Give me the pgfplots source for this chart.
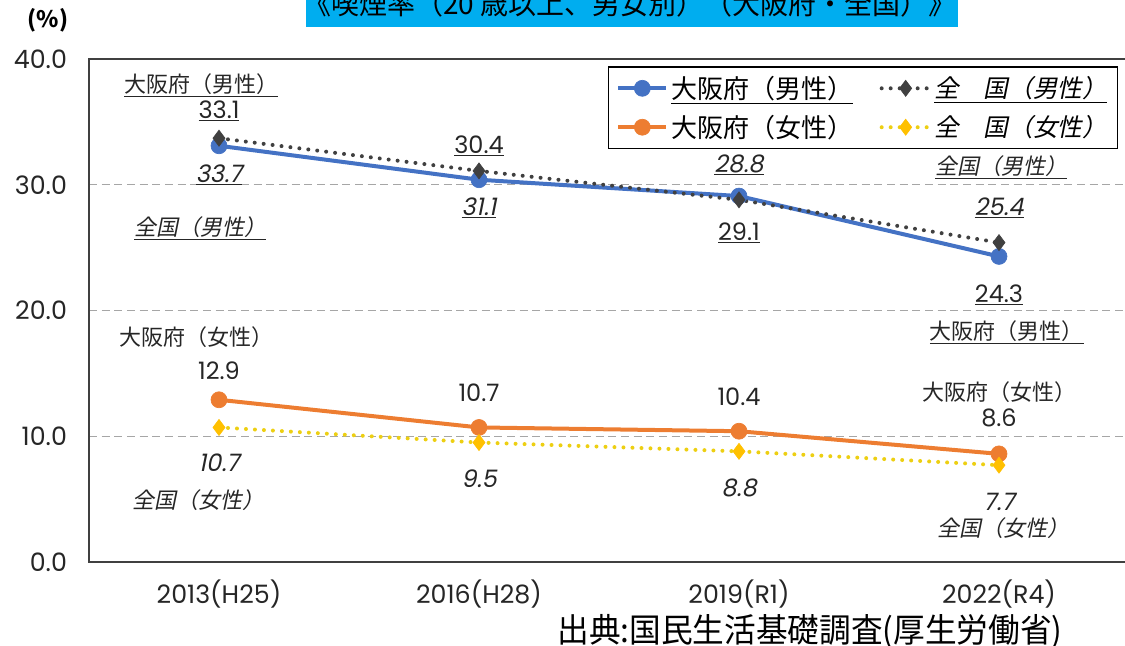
\documentclass[border=0pt]{standalone}
\usepackage{fontspec}
\usepackage{pgfplots}
\usepackage{pgfplotstable}
\pgfplotsset{compat=1.18}
\setmainfont{Noto Sans CJK JP}
\newfontfamily\jp{Noto Sans CJK JP}
\newfontfamily\jpi{Noto Sans CJK JP}[FakeSlant=0.2]
\newfontfamily\jpc{Noto Sans CJK JP}[FakeStretch=0.95]
\newfontfamily\num{Poppins}
\newfontfamily\numi{Poppins}[FakeSlant=0.2]

\definecolor{osm}{HTML}{4472C4}
\definecolor{osf}{HTML}{ED7D31}
\definecolor{nm}{HTML}{404040}
\definecolor{nfl}{HTML}{EDCF12}
\definecolor{nfm}{HTML}{FFC000}
\definecolor{gridc}{HTML}{A6A6A6}
\definecolor{txt}{HTML}{262626}

\pgfplotstableread{
x osm nm osf nf
0 33.1 33.7 12.9 10.7
1 30.4 31.1 10.7 9.5
2 29.1 28.8 10.4 8.8
3 24.3 25.4 8.6 7.7
}\datatable

\newcommand{\jl}{\jp\fontsize{16.5}{19}\selectfont}
\newcommand{\jli}{\jpi\fontsize{16.5}{19}\selectfont}
\newcommand{\nl}{\num\fontsize{18}{20}\selectfont}
\newcommand{\nli}{\numi\fontsize{18}{20}\selectfont}

\begin{document}
\begin{tikzpicture}
\useasboundingbox (-66.75pt,-63pt) rectangle (777pt,421.5pt);
\fill[cyan] (162.75pt,401.25pt) rectangle (651.75pt,440pt);
\node[font=\jp\fontsize{21}{24}\selectfont, text=black] at (405.75pt,418.5pt) {《喫煙率（20 歳以上、男女別）（大阪府・全国）》};
\node[font=\jp\fontsize{17}{19}\selectfont\bfseries, text=black] at (-30.75pt,406.5pt) {(\%)};
\begin{axis}[
  at={(0,0)}, anchor=south west,
  scale only axis, width=780pt, height=377.25pt,
  xmin=-0.5, xmax=3.5, ymin=0, ymax=40,
  xtick={0,1,2,3}, xticklabels={2013(H25),2016(H28),2019(R1),2022(R4)},
  ytick={0,10,20,30,40}, yticklabels={0.0,10.0,20.0,30.0,40.0},
  major tick length=0pt,
  ymajorgrids, grid style={gridc, line width=0.9pt, dash pattern=on 6pt off 3.5pt},
  axis line style={nm, line width=1.5pt},
  yticklabel style={font=\num\fontsize{19}{21}\selectfont, text=txt, xshift=-13pt},
  xticklabel style={font=\num\fontsize{19}{21}\selectfont, text=txt, yshift=-10pt},
  clip=false,
  legend columns=2,
  legend cell align=left,
  legend image code/.code={\draw[mark repeat=2,mark phase=2] plot coordinates {(0pt,0pt) (18pt,0pt) (36pt,0pt)};},
  legend style={at={(0.4986,0.986)}, anchor=north west, draw=black, line width=1.2pt, fill=white,
    font=\jp\fontsize{19.5}{22}\selectfont, inner xsep=6pt, inner ysep=5pt, row sep=7pt,
    /tikz/every even column/.append style={column sep=18pt}},
]
\addplot[osm, line width=3pt, mark=*, mark size=6pt, mark options={solid, fill=osm, draw=osm, line width=0.5pt}] table[x=x,y=osm]{\datatable};
\addlegendentry{\underline{大阪府（男性）}}
\addplot[nm, line width=3pt, line cap=round, dash pattern=on 0pt off 6.75pt, mark=diamond*, mark size=6pt, mark options={solid, fill=nm, draw=nm, line width=0.5pt}] table[x=x,y=nm]{\datatable};
\addlegendentry{\jpi\fontsize{18.5}{22}\selectfont\underline{全　国（男性）}}
\addplot[osf, line width=3pt, mark=*, mark size=6pt, mark options={solid, fill=osf, draw=osf, line width=0.5pt}] table[x=x,y=osf]{\datatable};
\addlegendentry{大阪府（女性）}
\addplot[nfl, line width=3pt, line cap=round, dash pattern=on 0pt off 6.75pt, mark=diamond*, mark size=6pt, mark options={solid, fill=nfm, draw=nfm, line width=0.5pt}] table[x=x,y=nf]{\datatable};
\addlegendentry{\jpi\fontsize{18.5}{22}\selectfont 全　国（女性）}

% male labels
\node[font=\jl, text=txt] at (axis cs:-0.069,37.93) {\underline{大阪府（男性）}};
\node[font=\nl, text=txt] at (axis cs:0,35.86) {\underline{33.1}};
\node[font=\nli, text=txt] at (axis cs:0,30.78) {\underline{33.7}};
\node[font=\jli, text=txt] at (axis cs:-0.073,26.56) {\underline{全国（男性）}};
\node[font=\nl, text=txt] at (axis cs:1,33.08) {\underline{30.4}};
\node[font=\nli, text=txt] at (axis cs:1,28.15) {\underline{31.1}};
\node[font=\nli, text=txt] at (axis cs:2,31.57) {\underline{28.8}};
\node[font=\nl, text=txt] at (axis cs:2,26.16) {\underline{29.1}};
\node[font=\jli, text=txt] at (axis cs:3.008,31.41) {\underline{全国（男性）}};
\node[font=\nli, text=txt] at (axis cs:3,28.15) {\underline{25.4}};
\node[font=\nl, text=txt] at (axis cs:3,21.23) {\underline{24.3}};
\node[font=\jl, text=txt] at (axis cs:3.03,18.29) {\underline{大阪府（男性）}};
% female labels
\node[font=\jl, text=txt] at (axis cs:-0.085,17.89) {大阪府（女性）};
\node[font=\nl, text=txt] at (axis cs:0,15.19) {12.9};
\node[font=\nli, text=txt] at (axis cs:0,7.87) {10.7};
\node[font=\jli, text=txt] at (axis cs:-0.077,4.93) {全国（女性）};
\node[font=\nl, text=txt] at (axis cs:1,13.44) {10.7};
\node[font=\nli, text=txt] at (axis cs:1,6.60) {9.5};
\node[font=\nl, text=txt] at (axis cs:2,13.12) {10.4};
\node[font=\nli, text=txt] at (axis cs:2,5.88) {8.8};
\node[font=\jl, text=txt] at (axis cs:3,13.52) {大阪府（女性）};
\node[font=\nl, text=txt] at (axis cs:3,11.45) {8.6};
\node[font=\nli, text=txt] at (axis cs:3,4.77) {7.7};
\node[font=\jli, text=txt] at (axis cs:3.019,2.70) {全国（女性）};
\end{axis}
\node[font=\jpc\fontsize{25}{28}\selectfont, text=black] at (540.75pt,-52pt) {出典:国民生活基礎調査(厚生労働省)};
\end{tikzpicture}
\end{document}
